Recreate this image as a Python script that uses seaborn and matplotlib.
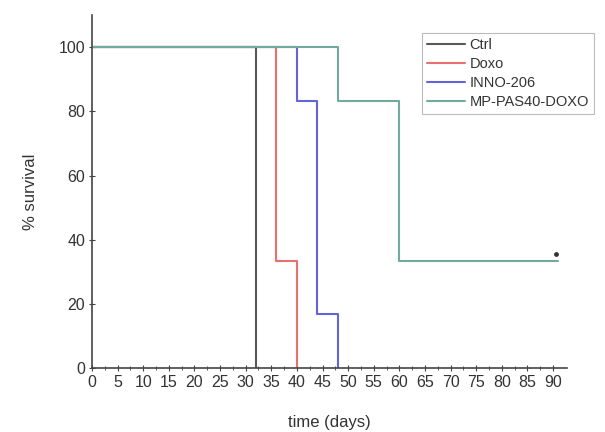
import pandas as pd
import matplotlib.pyplot as plt
import seaborn as sns

# survival curves (step functions)
ctrl_days = [0, 32]
ctrl_surv = [100, 0]
doxo_days = [0, 36, 40]
doxo_surv = [100, 33.3, 0]
inno_days = [0, 40, 44, 48]
inno_surv = [100, 83.3, 16.7, 0]
mp_days = [0, 48, 60, 91]
mp_surv = [100, 83.3, 33.3, 33.3]
censor_day = [90.5]
censor_surv = [35.5]

groups = ["Ctrl", "Doxo", "INNO-206", "MP-PAS40-DOXO"]
colors = ["#585858", "#e8706f", "#6464d8", "#72aaa0"]

rows = []
for name, d, s in zip(groups, [ctrl_days, doxo_days, inno_days, mp_days],
                      [ctrl_surv, doxo_surv, inno_surv, mp_surv]):
    for x, y in zip(d, s):
        rows.append({"day": x, "surv": y, "group": name})
df = pd.DataFrame(rows)

sns.set_style("ticks")
plt.rcParams['font.family'] = ['Liberation Sans', 'DejaVu Sans']

fig = plt.figure(figsize=(6.05, 4.32), dpi=100)
ax = fig.add_axes([0.152, 0.148, 0.785, 0.817])

sns.lineplot(data=df, x="day", y="surv", hue="group", palette=colors,
             estimator=None, sort=False, drawstyle="steps-post",
             linewidth=1.5, ax=ax)
ax.scatter(censor_day, censor_surv, s=6, color="#333333", zorder=5)

ax.set_xlim(0, 92.7)
ax.set_ylim(0, 110)
ax.set_xticks(range(0, 91, 5))
ax.set_xticks([x + 2.5 for x in range(0, 90, 5)], minor=True)
ax.set_yticks(range(0, 101, 20))
ax.tick_params(axis="both", which="major", labelsize=11.5, length=4,
               direction="inout", color="#444444", pad=3,
               labelcolor="#333333")
ax.tick_params(axis="x", which="minor", length=3, direction="inout",
               color="#444444")
ax.spines["top"].set_visible(False)
ax.spines["right"].set_visible(False)
for sp in ["left", "bottom"]:
    ax.spines[sp].set_color("#444444")
    ax.spines[sp].set_linewidth(1.2)

ax.set_xlabel("time (days)", fontsize=12, labelpad=18, color="#333333")
ax.set_ylabel("% survival", fontsize=12, labelpad=15, color="#333333")

leg = ax.legend(loc="upper left", bbox_to_anchor=(0.695, 0.95),
                fontsize=10.5, frameon=True, fancybox=False,
                handlelength=2.6, handletextpad=0.3, borderpad=0.35,
                borderaxespad=0, labelspacing=0.35)
leg.get_frame().set_edgecolor("#aaaaaa")
leg.get_frame().set_linewidth(0.8)
leg.set_clip_on(False)
for t in leg.get_texts():
    t.set_color("#333333")

fig.savefig("out.png", dpi=100)
